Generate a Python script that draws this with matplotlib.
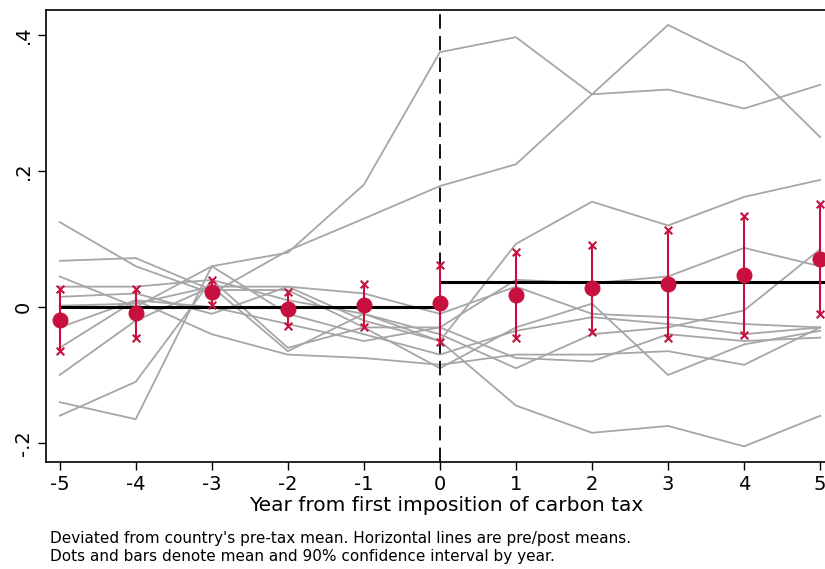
import matplotlib
matplotlib.use("Agg")
import matplotlib.pyplot as plt
import numpy as np

years = [-5, -4, -3, -2, -1, 0, 1, 2, 3, 4, 5]

# per-country deviations (grey lines)
countries = [
    [0.045, 0.000, 0.060, 0.080, 0.180, 0.375, 0.397, 0.313, 0.320, 0.292, 0.327],
    [0.125, 0.060, 0.020, 0.083, 0.130, 0.178, 0.210, 0.313, 0.415, 0.360, 0.250],
    [-0.100, -0.020, 0.030, 0.030, -0.020, -0.050, 0.093, 0.155, 0.120, 0.162, 0.187],
    [0.068, 0.072, 0.025, 0.025, -0.030, -0.030, 0.040, 0.035, 0.045, 0.087, 0.060],
    [-0.160, -0.110, 0.040, -0.060, -0.030, -0.090, -0.030, 0.005, -0.100, -0.055, -0.035],
    [0.030, 0.030, 0.040, 0.010, -0.010, -0.050, -0.145, -0.185, -0.175, -0.205, -0.160],
    [-0.030, 0.010, -0.040, -0.070, -0.075, -0.085, -0.070, -0.070, -0.065, -0.085, -0.030],
    [0.002, 0.005, 0.030, -0.065, -0.010, -0.040, -0.090, -0.040, -0.030, -0.005, 0.085],
    [-0.140, -0.165, 0.060, -0.010, -0.040, -0.070, -0.035, -0.015, -0.025, -0.040, -0.030],
    [0.015, 0.020, -0.010, 0.030, 0.020, -0.010, 0.030, -0.010, -0.015, -0.025, -0.030],
    [-0.060, 0.010, 0.000, -0.025, -0.050, -0.030, -0.075, -0.080, -0.040, -0.050, -0.045],
]

means = [-0.019, -0.009, 0.022, -0.003, 0.003, 0.006, 0.018, 0.028, 0.034, 0.047, 0.071]
ci_hi = [0.026, 0.026, 0.040, 0.022, 0.034, 0.062, 0.081, 0.091, 0.113, 0.134, 0.151]
ci_lo = [-0.065, -0.046, 0.003, -0.028, -0.029, -0.051, -0.046, -0.037, -0.046, -0.041, -0.010]
pre_mean = 0.0
post_mean = 0.037

red = "#c8103e"

fig = plt.figure(figsize=(8.25, 5.69), dpi=100)
ax = fig.add_axes([46 / 825, 1 - 462 / 569, 800 / 825, 452 / 569])

for c in countries:
    ax.plot(years, c, color="#a6a6a6", lw=1.3, zorder=1)

ax.plot([-5, 0], [pre_mean, pre_mean], color="black", lw=2.2, zorder=2)
ax.plot([0, 5.4], [post_mean, post_mean], color="black", lw=2.2, zorder=2)
ax.axvline(0, color="black", lw=1.3, ls=(0, (8, 4)), zorder=2)

for x, lo, hi in zip(years, ci_lo, ci_hi):
    ax.plot([x, x], [lo, hi], color=red, lw=1.5, zorder=3)
ax.scatter(years, ci_hi, marker="x", color=red, s=30, lw=1.5, zorder=4)
ax.scatter(years, ci_lo, marker="x", color=red, s=30, lw=1.5, zorder=4)
ax.scatter(years, means, color=red, s=110, zorder=5, clip_on=False)

ax.set_xlim(-5.18, 5.34)
ax.set_ylim(-0.228, 0.437)
ax.set_xticks(years)
ax.set_xticklabels([str(y) for y in years], fontsize=14)
ax.set_yticks([-0.2, 0, 0.2, 0.4])
ax.set_yticklabels(["-.2", "0", ".2", ".4"], fontsize=14, rotation=90, va="center")
ax.tick_params(length=6, width=1)
ax.set_xlabel("Year from first imposition of carbon tax", fontsize=14.5, labelpad=1)
for s in ax.spines.values():
    s.set_linewidth(1.2)

fig.text(50 / 825, 1 - 538 / 569, "Deviated from country's pre-tax mean. Horizontal lines are pre/post means.",
         fontsize=11, va="center")
fig.text(50 / 825, 1 - 556 / 569, "Dots and bars denote mean and 90% confidence interval by year.",
         fontsize=11, va="center")

fig.savefig("out.png", dpi=100)
